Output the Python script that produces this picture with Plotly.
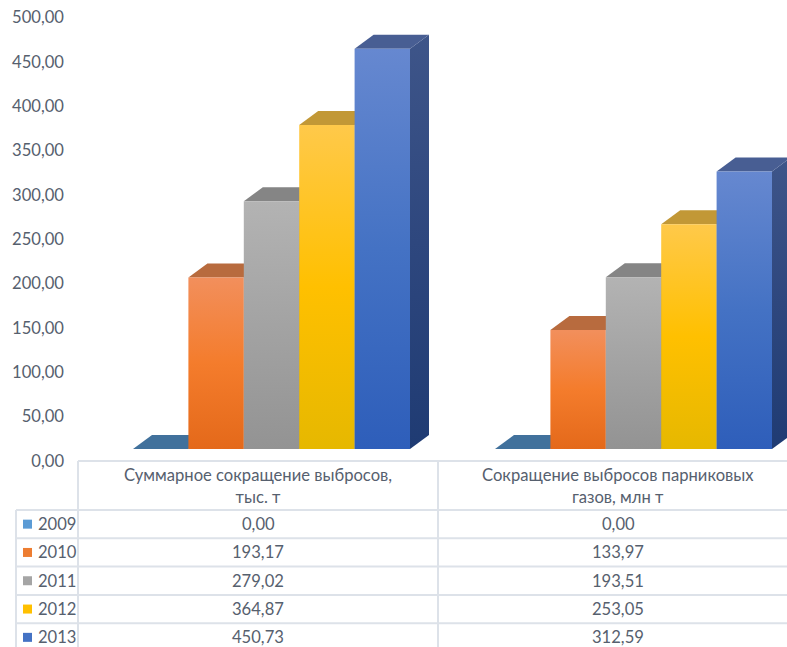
import plotly.graph_objects as go

# ---- data -------------------------------------------------------------
categories = [
    "Суммарное сокращение выбросов,<br>тыс. т",
    "Сокращение выбросов парниковых<br>газов, млн т",
]
years = ["2009", "2010", "2011", "2012", "2013"]
values_total = [0.00, 193.17, 279.02, 364.87, 450.73]      # тыс. т
values_ghg = [0.00, 133.97, 193.51, 253.05, 312.59]        # млн т
tick_values = [0, 50, 100, 150, 200, 250, 300, 350, 400, 450, 500]

series_values = [[values_total[i], values_ghg[i]] for i in range(len(years))]

# ---- styling -----------------------------------------------------------
W, H = 787, 647
FONT = "Lato"
FSIZE = 16.6
TEXT = "#56606e"
GRID = "#dde2e9"

legend_colors = ["#5b9bd5", "#ed7d31", "#a5a5a5", "#ffc000", "#4472c4"]
# front faces: (bottom, middle, top)
front_grad = [
    ("#4f86bd", "#5b9bd5", "#6fa5d8"),
    ("#e4691a", "#f47c2c", "#f28f5c"),
    ("#939393", "#a3a3a3", "#b3b3b3"),
    ("#e6b800", "#ffc000", "#ffc94a"),
    ("#2e5eba", "#4472c4", "#6688d0"),
]
top_colors = ["#41719c", "#b86b3e", "#858585", "#c29836", "#485e93"]
# side faces: (bottom, middle, top)
side_grad = [
    ("#2c5078", "#365d88", "#3f6a96"),
    ("#8f4a1c", "#9a5428", "#a65f33"),
    ("#6b6b6b", "#737373", "#7c7c7c"),
    ("#a57f10", "#ad871e", "#b58f2c"),
    ("#1f3b73", "#2e477e", "#3e5589"),
]

# geometry in pixels (converted to axis units below)
CAT0_PX = 271.5          # centre of first category group
CAT_STEP_PX = 362.0      # distance between category groups
BAR_W_PX = 55.4
PX_PER_UNIT = 0.888      # vertical pixels per value unit
BASE_PX = 449            # pixel row of the bar floor (front edge)
AXIS0_PX = 461           # pixel row of value 0 on the labelled axis
DEPTH_DX_PX = 19
DEPTH_DY_PX = 14

x_range = [-CAT0_PX / CAT_STEP_PX, (W - CAT0_PX) / CAT_STEP_PX]
bw = BAR_W_PX / CAT_STEP_PX
ddx = DEPTH_DX_PX / CAT_STEP_PX
ddy = DEPTH_DY_PX / PX_PER_UNIT

# axis for the bars: value 0 sits on the front floor line
bar_dom = [(H - BASE_PX) / H, (H - (BASE_PX - 500 * PX_PER_UNIT)) / H]
# labelled value axis (back wall)
lab_dom = [(H - AXIS0_PX) / H, (H - (AXIS0_PX - 500 * PX_PER_UNIT)) / H]

fig = go.Figure()


def poly(xs, ys, fillcolor=None, grad=None):
    kw = dict(
        x=xs + [xs[0]], y=ys + [ys[0]], mode="lines", fill="toself",
        line=dict(width=0), hoverinfo="skip", showlegend=False,
    )
    if grad is not None:
        kw["fillgradient"] = dict(
            type="vertical", colorscale=[[0, grad[0]], [0.5, grad[1]], [1, grad[2]]]
        )
    else:
        kw["fillcolor"] = fillcolor
    fig.add_trace(go.Scatter(**kw))


n = len(years)
for i in range(n):
    for c in range(len(categories)):
        v = series_values[i][c]
        x0 = c + (i - n / 2) * bw
        x1 = x0 + bw
        # right side face
        if v > 0:
            poly([x1, x1 + ddx, x1 + ddx, x1], [0, ddy, v + ddy, v], grad=side_grad[i])
        # top face
        poly([x0, x1, x1 + ddx, x0 + ddx], [v, v, v + ddy, v + ddy],
             fillcolor=top_colors[i])
        # front face
        if v > 0:
            poly([x0, x1, x1, x0], [0, 0, v, v], grad=front_grad[i])

# the labelled value axis lives on its own subplot row
fig.add_trace(go.Scatter(x=[None], y=[None], xaxis="x", yaxis="y2",
                         showlegend=False, hoverinfo="skip"))

fig.update_layout(
    width=W, height=H,
    margin=dict(l=0, r=0, t=0, b=0, pad=0),
    paper_bgcolor="white", plot_bgcolor="rgba(0,0,0,0)",
    separators=", ",
    font=dict(family=FONT, size=FSIZE, color=TEXT),
    showlegend=False,
    xaxis=dict(range=x_range, domain=[0, 1], visible=False, fixedrange=True,
               automargin=False),
    yaxis=dict(range=[0, 500], domain=bar_dom, visible=False, fixedrange=True,
               automargin=False),
    yaxis2=dict(
        range=[0, 500.5], domain=lab_dom, anchor="free",
        position=64 / W, side="left", tickvals=tick_values, tickformat=".2f",
        showgrid=False, zeroline=False, showline=False, ticks="",
        tickfont=dict(family=FONT, size=FSIZE, color=TEXT), fixedrange=True,
        automargin=False,
    ),
)

# ---- data table under the chart ----------------------------------------
TABLE_LEFT = 16
KEY_COL_R = 78
COL_W = 360
HEADER_TOP = 461
HEADER_BOT = 510
ROW_H = 28.3


def px(xp):
    return xp / W


def py(yp):
    return 1 - yp / H


shapes = []
line = dict(color=GRID, width=2)
# horizontal rules
shapes.append(dict(type="line", xref="paper", yref="paper",
                   x0=px(KEY_COL_R), x1=1.05, y0=py(HEADER_TOP), y1=py(HEADER_TOP), line=line))
for r in range(n + 1):
    yy = HEADER_BOT + r * ROW_H
    shapes.append(dict(type="line", xref="paper", yref="paper",
                       x0=px(TABLE_LEFT), x1=1.05, y0=py(yy), y1=py(yy), line=line))
# vertical rules
shapes.append(dict(type="line", xref="paper", yref="paper",
                   x0=px(TABLE_LEFT), x1=px(TABLE_LEFT), y0=py(HEADER_BOT), y1=-0.05, line=line))
for k in range(len(categories)):
    xx = KEY_COL_R + k * COL_W
    shapes.append(dict(type="line", xref="paper", yref="paper",
                       x0=px(xx), x1=px(xx), y0=py(HEADER_TOP), y1=-0.05, line=line))

annotations = []
for k, cat in enumerate(categories):
    cx = KEY_COL_R + (k + 0.5) * COL_W
    annotations.append(dict(
        x=px(cx), y=py((HEADER_TOP + HEADER_BOT) / 2), xref="paper", yref="paper",
        text=cat, showarrow=False, xanchor="center", yanchor="middle",
        font=dict(family=FONT, size=FSIZE, color=TEXT)))

for i, yr in enumerate(years):
    cy = HEADER_BOT + (i + 0.5) * ROW_H
    shapes.append(dict(type="rect", xref="paper", yref="paper",
                       x0=px(23), x1=px(32), y0=py(cy + 4.5), y1=py(cy - 4.5),
                       fillcolor=legend_colors[i], line=dict(width=0)))
    annotations.append(dict(
        x=px(35.5), y=py(cy), xref="paper", yref="paper", text=yr,
        showarrow=False, xanchor="left", yanchor="middle",
        font=dict(family=FONT, size=FSIZE, color=TEXT)))
    for k in range(len(categories)):
        cx = KEY_COL_R + (k + 0.5) * COL_W
        txt = f"{series_values[i][k]:.2f}".replace(".", ",")
        annotations.append(dict(
            x=px(cx), y=py(cy), xref="paper", yref="paper", text=txt,
            showarrow=False, xanchor="center", yanchor="middle",
            font=dict(family=FONT, size=FSIZE, color=TEXT)))

fig.update_layout(shapes=shapes, annotations=annotations)

fig.write_html("out.html")
